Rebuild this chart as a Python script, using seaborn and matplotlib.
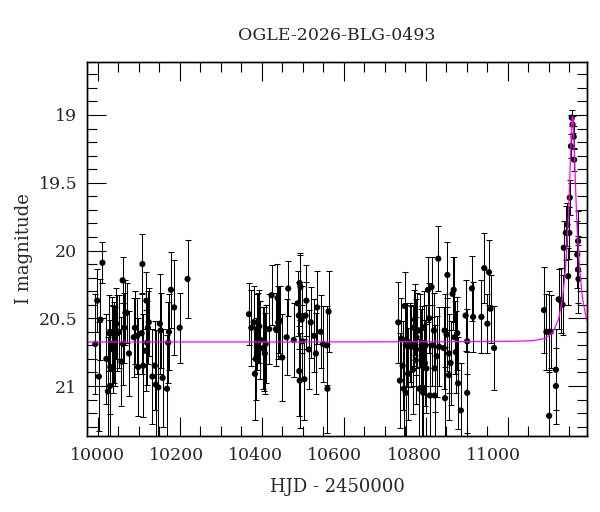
import matplotlib
matplotlib.use("Agg")
import matplotlib.pyplot as plt
from matplotlib.ticker import MultipleLocator, FixedLocator, FuncFormatter
import seaborn as sns
import pandas as pd

# photometry: HJD-2450000, I mag, error
hjd = [9995, 10004, 10000, 10008, 10013, 10023, 10027, 10030, 10032, 10033,
       10037, 10038, 10040, 10042, 10044, 10048, 10051, 10055, 10061, 10064,
       10065, 10068, 10071, 10074, 10080, 10092, 10095, 10101, 10103, 10112,
       10114, 10116, 10122, 10124, 10126, 10128, 10130, 10139, 10145, 10148,
       10154, 10158, 10160, 10165, 10176, 10179, 10181, 10186, 10194, 10208,
       10228,
       10383, 10389, 10395, 10398, 10400, 10403, 10406, 10409, 10412, 10419,
       10421, 10423, 10425, 10434, 10440, 10451, 10455, 10457, 10459, 10461,
       10467, 10478, 10482, 10496, 10506, 10509, 10510, 10511, 10511, 10513,
       10516, 10518, 10523, 10526, 10528, 10534, 10539, 10547, 10552, 10555,
       10564, 10570, 10579, 10581, 10584,
       10760, 10764, 10768, 10771, 10774, 10776, 10779, 10779, 10782, 10785,
       10789, 10793, 10796, 10797, 10799, 10802, 10804, 10806, 10808, 10813,
       10814, 10817, 10819, 10821, 10823, 10824, 10827, 10829, 10831, 10835,
       10838, 10840, 10844, 10846, 10850, 10852, 10852, 10857, 10861, 10863,
       10875, 10877, 10878, 10882, 10884, 10888, 10888, 10892, 10897, 10900,
       10902, 10905, 10909, 10911, 10918, 10930, 10934, 10934, 10946, 10949,
       10970, 10977, 10985, 10989, 10993, 11002,
       11128, 11134, 11141, 11145, 11141, 11158, 11158, 11165, 11170, 11175,
       11178, 11183, 11187, 11189, 11192, 11193, 11196, 11198, 11200, 11203,
       11204, 11212, 11214, 11214, 11215]

imag = [20.69, 20.93, 20.37, 20.51, 20.09, 20.80, 21.04, 20.61, 21.00, 20.86,
        20.61, 20.70, 20.73, 20.68, 20.71, 20.54, 20.61, 20.60, 20.82, 20.22,
        20.69, 20.57, 20.46, 20.46, 20.76, 20.64, 20.57, 20.63, 20.86, 20.61,
        20.10, 20.85, 20.74, 20.37, 20.68, 20.57, 20.53, 20.93, 20.85, 20.99,
        21.01, 20.54, 20.59, 20.94, 21.02, 20.68, 20.60, 20.29, 20.42, 20.57,
        20.21,
        20.47, 20.57, 20.53, 20.91, 20.80, 20.60, 20.57, 20.56, 20.66, 20.72,
        20.73, 20.76, 20.69, 20.58, 20.33, 20.58, 20.35, 20.53, 20.51, 20.52,
        20.79, 20.64, 20.28, 20.66, 20.39, 20.48, 20.89, 20.24, 20.96, 20.27,
        20.51, 20.67, 20.95, 20.48, 20.37, 20.73, 20.53, 20.63, 20.76, 20.42,
        20.60, 20.69, 20.70, 21.02, 20.45,
        20.53, 20.96, 20.65, 20.85, 21.02, 20.41, 21.05, 20.70, 20.70, 20.91,
        20.68, 20.71, 20.70, 20.88, 20.57, 20.51, 20.81, 20.64, 20.59, 21.02,
        20.59, 20.73, 20.70, 21.02, 21.05, 20.57, 20.83, 20.70, 20.87, 20.29,
        20.50, 21.07, 20.27, 20.70, 20.59, 20.87, 21.07, 20.78, 20.06, 20.71,
        20.72, 20.59, 21.09, 20.62, 20.18, 20.92, 20.76, 20.83, 20.32, 20.29,
        20.64, 20.75, 20.61, 20.98, 21.18, 20.48, 20.67, 21.05, 20.28, 20.49,
        20.49, 20.13, 20.54, 20.16, 20.43, 20.72,
        20.44, 20.60, 20.60, 20.60, 21.22, 20.88, 21.00, 20.36, 20.37, 20.40,
        19.98, 19.87, 19.81, 20.19, 19.87, 19.61, 19.23, 19.02, 19.07, 19.16,
        19.33, 20.03, 19.93, 20.14, 20.21]

ierr = [0.37, 0.40, 0.23, 0.30, 0.15, 0.33, 0.40, 0.28, 0.42, 0.35,
        0.27, 0.30, 0.32, 0.30, 0.29, 0.26, 0.28, 0.27, 0.33, 0.17,
        0.30, 0.26, 0.24, 0.22, 0.31, 0.29, 0.27, 0.28, 0.36, 0.30,
        0.22, 0.38, 0.30, 0.21, 0.31, 0.27, 0.25, 0.35, 0.33, 0.40,
        0.42, 0.37, 0.28, 0.36, 0.40, 0.30, 0.28, 0.28, 0.35, 0.26,
        0.29,
        0.23, 0.28, 0.27, 0.34, 0.30, 0.28, 0.26, 0.27, 0.29, 0.30,
        0.31, 0.30, 0.29, 0.26, 0.22, 0.27, 0.25, 0.27, 0.25, 0.26,
        0.32, 0.28, 0.20, 0.27, 0.24, 0.25, 0.33, 0.22, 0.35, 0.24,
        0.25, 0.27, 0.30, 0.25, 0.26, 0.29, 0.26, 0.27, 0.30, 0.27,
        0.27, 0.28, 0.29, 0.33, 0.30,
        0.30, 0.35, 0.30, 0.33, 0.38, 0.25, 0.40, 0.30, 0.31, 0.34,
        0.29, 0.30, 0.30, 0.33, 0.28, 0.26, 0.32, 0.28, 0.28, 0.37,
        0.27, 0.30, 0.29, 0.36, 0.38, 0.27, 0.32, 0.30, 0.33, 0.24,
        0.26, 0.38, 0.22, 0.30, 0.28, 0.32, 0.37, 0.30, 0.24, 0.29,
        0.30, 0.27, 0.38, 0.27, 0.24, 0.33, 0.29, 0.31, 0.27, 0.24,
        0.27, 0.30, 0.27, 0.34, 0.35, 0.26, 0.24, 0.30, 0.24, 0.26,
        0.27, 0.26, 0.22, 0.24, 0.25, 0.31,
        0.32, 0.28, 0.30, 0.27, 0.34, 0.30, 0.28, 0.22, 0.24, 0.22,
        0.20, 0.20, 0.16, 0.21, 0.19, 0.13, 0.09, 0.06, 0.06, 0.08,
        0.08, 0.25, 0.22, 0.25, 0.25]

# microlensing model curve
model_t = [9974, 10500, 10900, 11050, 11100, 11130, 11150, 11165, 11175, 11182,
           11185, 11188, 11190, 11192, 11195, 11198, 11199, 11200, 11201, 11202,
           11205, 11208, 11210, 11212, 11215, 11218, 11225, 11235, 11240]
model_m = [20.675, 20.675, 20.673, 20.670, 20.665, 20.65, 20.605, 20.505, 20.35, 20.14,
           20.01, 19.85, 19.715, 19.56, 19.30, 19.07, 19.027, 19.01, 19.027, 19.07,
           19.30, 19.56, 19.715, 19.85, 20.01, 20.14, 20.35, 20.505, 20.54]

x_labels = [10000, 10200, 10400, 10600, 10800, 11000]

df = pd.DataFrame({"hjd": hjd, "mag": imag, "err": ierr})
model = pd.DataFrame({"t": model_t, "m": model_m})

sns.set_theme(style="ticks")
plt.rcParams["font.family"] = ["DejaVu Serif"]
plt.rcParams["mathtext.fontset"] = "dejavuserif"

fig = plt.figure(figsize=(6, 5.12), dpi=100)
ax = fig.add_axes([0.145, 0.1484, 0.8333, 0.7305])

ax.errorbar(df["hjd"], df["mag"], yerr=df["err"], fmt="none",
            ecolor="black", elinewidth=0.75, capsize=2.5, capthick=0.75, zorder=2)
sns.scatterplot(data=df, x="hjd", y="mag", color="black", s=20,
                edgecolor="none", ax=ax, zorder=3)
sns.lineplot(data=model, x="t", y="m", color="#ff00ff", lw=0.9,
             sort=False, estimator=None, ax=ax, zorder=4)

ax.set_xlim(9974, 11236.5)
ax.set_ylim(21.369, 18.609)

# labels
ax.xaxis.set_major_locator(FixedLocator(x_labels))
ax.tick_params(axis="x", which="both", length=0, labelsize=12.5, pad=8,
               top=False, bottom=True)
ax.yaxis.set_major_locator(MultipleLocator(0.5))
ax.yaxis.set_minor_locator(MultipleLocator(0.1))
ax.yaxis.set_major_formatter(FuncFormatter(lambda v, p: "%g" % v))
ax.tick_params(axis="y", which="both", direction="in", left=True, right=True,
               labelsize=12.5, pad=7, width=0.8, color="black")
ax.tick_params(axis="y", which="major", length=13.7)
ax.tick_params(axis="y", which="minor", length=7)

# tick marks along x as they are drawn in the original frame
ax2 = ax.twiny()
ax2.set_xlim(9973.9, 11193.4)
ax2.xaxis.set_major_locator(MultipleLocator(200))
ax2.xaxis.set_minor_locator(MultipleLocator(50))
ax2.tick_params(axis="x", which="both", direction="in", top=True, bottom=True,
                labeltop=False, labelbottom=False, width=0.8, color="black")
ax2.tick_params(axis="x", which="major", length=13.7)
ax2.tick_params(axis="x", which="minor", length=7)

for a in (ax, ax2):
    for s in a.spines.values():
        s.set_linewidth(1.0)
        s.set_color("black")

ax.set_xlabel("HJD - 2450000", fontsize=13, labelpad=10)
ax.set_ylabel("I magnitude", fontsize=13, labelpad=4)
ax.set_title("OGLE-2026-BLG-0493", fontsize=12.5, pad=16)

fig.savefig("out.png", dpi=100)
